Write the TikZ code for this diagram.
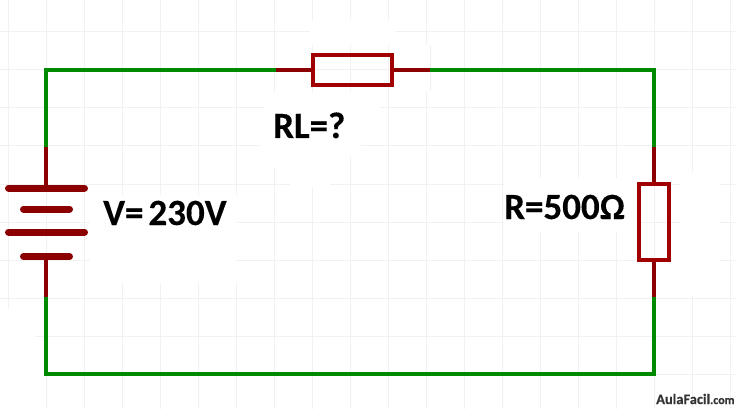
\documentclass[tikz,border=0pt]{standalone}
\usepackage{fontspec}
\setmainfont{Carlito}[BoldFeatures={FakeBold=0.25}]
\definecolor{wiregreen}{HTML}{008A00}
\definecolor{wirered}{HTML}{8B0000}
\definecolor{boxred}{HTML}{A00000}
\definecolor{gridc}{HTML}{F1F1F1}
\tikzset{
 x=1pt,y=-1pt,
 gridline/.style={draw=gridc,line width=1pt},
 patch/.style={fill=white,draw=none},
 gw/.style={draw=wiregreen,line width=4pt},
 rw/.style={draw=wirered,line width=4pt},
 plate/.style={draw=wirered,line width=7pt,line cap=round},
 resistor/.style={draw=boxred,line width=4pt,fill=none,inner sep=0pt,minimum width=#1},
 lbl/.style={font=\bfseries\fontsize{37}{37}\selectfont,text=black,inner sep=0pt,anchor=base west}
}
\begin{document}
\begin{tikzpicture}
\useasboundingbox (0,0) rectangle (736,409);
\fill[white] (0,0) rectangle (736,409);
\foreach \xx in {8,46,...,730} \draw[gridline] (\xx,0) -- (\xx,409);
\foreach \yy in {32,70,...,409} \draw[gridline] (0,\yy) -- (736,\yy);
% erased areas behind the texts
\fill[patch] (90,195) rectangle (237,283);
\fill[patch] (265,92) rectangle (381,125);
\fill[patch] (260,125) rectangle (361,156);
\fill[patch] (262,150) rectangle (330,168);
\fill[patch] (290,150) rectangle (330,188);
\fill[patch] (310,20) rectangle (395,45);
\fill[patch] (420,45) rectangle (432,91);
\draw[gridline] (430,46) -- (430,90);
\fill[patch] (504,178) rectangle (636,232);
\fill[patch] (680,172) rectangle (720,296);
\fill[patch] (672,250) rectangle (720,296);
\fill[patch] (0,309) rectangle (35,409);
\fill[patch] (30,345) rectangle (44,409);
% corners
\coordinate (tl) at (46,70);
\coordinate (tr) at (654,70);
\coordinate (bl) at (46,374);
\coordinate (br) at (654,374);
\coordinate (a1) at (46,147);
\coordinate (a2) at (46,297);
\coordinate (b1) at (276,70);
\coordinate (b2) at (430,70);
\coordinate (c1) at (654,147);
\coordinate (c2) at (654,297);
% battery
\coordinate (p1) at (46,188);
\coordinate (p4) at (46,256.5);
\draw[plate] (8.5,188) -- (84.5,188);
\draw[plate] (23.5,209) -- (69.5,209);
\draw[plate] (8.5,232) -- (84.5,232);
\draw[plate] (23.5,256.5) -- (69.5,256.5);
% resistors
\node[resistor=79pt,minimum height=30pt] (rl) at (352.5,70) {};
\node[resistor=30pt,minimum height=76pt] (r) at (654,222) {};
% wires
\draw[gw,line join=miter] (a1) -- (tl) -- (b1);
\draw[gw,line join=miter] (b2) -- (tr) -- (c1);
\draw[gw,line join=miter] (a2) -- (bl) -- (br) -- (c2);
\draw[rw] (a1) -- (p1);
\draw[rw] (p4) -- (a2);
\draw[rw] (b1) -- (rl.west);
\draw[rw] (rl.east) -- (b2);
\draw[rw] (c1) -- (r.north);
\draw[rw] (r.south) -- (c2);
% labels
\node[lbl] (v) at (103,225) {V=\hspace{5pt}230V};
\node[lbl] (rlt) at (273,138) {RL=?};
\node[lbl] (rt) at (504,219) {R=500Ω};
\node[font=\bfseries\fontsize{14.5}{15}\selectfont,text=black!80,inner sep=0pt,anchor=base west] (af) at (656,404) {AulaFacil{\fontsize{12}{12}\selectfont.com}};
\end{tikzpicture}
\end{document}
